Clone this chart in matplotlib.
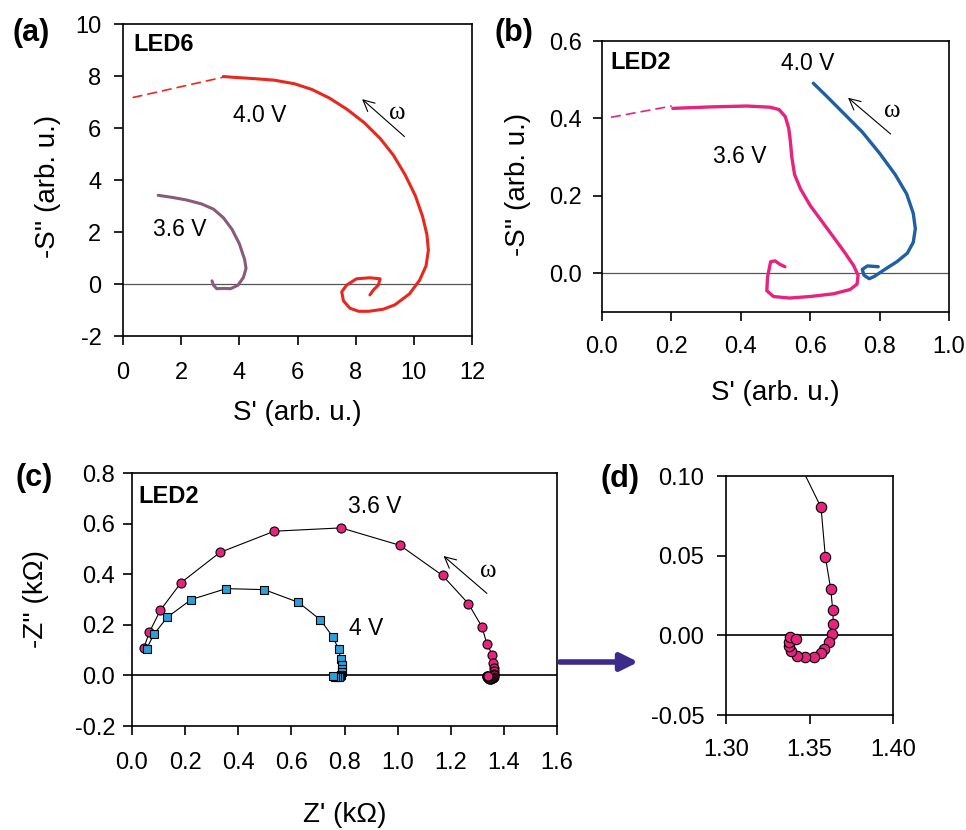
import numpy as np
import matplotlib
matplotlib.use("Agg")
import matplotlib.pyplot as plt
from matplotlib.patches import FancyArrowPatch
from matplotlib.ticker import FormatStrFormatter

plt.rcParams['font.family'] = ['Liberation Sans', 'DejaVu Sans']
plt.rcParams['axes.unicode_minus'] = False

# ---- (a) LED6, S-plane ----
a40_dash_x = [0.33, 3.43]
a40_dash_y = [7.17, 7.95]
a40_x = [3.45, 3.79, 4.5, 5.2, 5.9, 6.5, 7.1, 7.7, 8.3, 8.84, 9.3, 9.7, 10.05, 10.3,
         10.45, 10.5, 10.42, 10.2, 9.85, 9.35, 8.95, 8.45, 8.1, 7.8, 7.58, 7.52, 7.69,
         8.03, 8.49, 8.84, 8.78, 8.61, 8.49]
a40_y = [7.98, 7.95, 7.90, 7.84, 7.70, 7.48, 7.15, 6.72, 6.20, 5.60, 4.95, 4.20, 3.40,
         2.60, 1.90, 1.30, 0.70, 0.15, -0.38, -0.80, -0.97, -1.05, -1.05, -0.93, -0.65,
         -0.30, -0.04, 0.20, 0.24, 0.20, -0.04, -0.23, -0.42]
a36_x = [1.21, 1.7, 2.19, 2.7, 3.11, 3.45, 3.75, 4.0, 4.18, 4.23, 4.14, 3.95, 3.7,
         3.45, 3.22, 3.11, 3.06]
a36_y = [3.41, 3.33, 3.23, 3.08, 2.88, 2.55, 2.10, 1.55, 0.95, 0.60, 0.25, -0.05, -0.18,
         -0.17, -0.18, -0.04, 0.12]

# ---- (b) LED2, S-plane ----
b36_dash_x = [0.026, 0.201]
b36_dash_y = [0.403, 0.432]
b36_x = [0.204, 0.321, 0.417, 0.484, 0.510, 0.528, 0.538, 0.543, 0.547, 0.555, 0.572,
         0.600, 0.638, 0.670, 0.700, 0.725, 0.738, 0.735, 0.715, 0.667, 0.600, 0.540,
         0.494, 0.475, 0.477, 0.486, 0.499, 0.513, 0.527]
b36_y = [0.426, 0.430, 0.432, 0.429, 0.423, 0.405, 0.375, 0.340, 0.300, 0.255, 0.218,
         0.175, 0.129, 0.090, 0.053, 0.020, -0.005, -0.028, -0.042, -0.053, -0.060, -0.064,
         -0.060, -0.045, -0.010, 0.030, 0.032, 0.023, 0.017]
b40_x = [0.609, 0.650, 0.700, 0.750, 0.800, 0.845, 0.878, 0.897, 0.903, 0.897, 0.880,
         0.850, 0.815, 0.785, 0.770, 0.755, 0.750, 0.765, 0.796]
b40_y = [0.491, 0.455, 0.410, 0.365, 0.310, 0.255, 0.205, 0.155, 0.115, 0.080, 0.052,
         0.030, 0.010, -0.008, -0.014, -0.005, 0.010, 0.019, 0.017]

# ---- (c)/(d) LED2, impedance (kOhm) ----
z36_re = [0.045, 0.0655, 0.107, 0.185, 0.331, 0.536, 0.787, 1.009, 1.169, 1.266, 1.317,
          1.336, 1.3569, 1.3595, 1.3627, 1.3639, 1.3643, 1.3637, 1.3619, 1.3587, 1.3567,
          1.3527, 1.3475, 1.3427, 1.3389, 1.3375, 1.3375, 1.3383, 1.3419]
z36_im = [0.110, 0.171, 0.258, 0.367, 0.486, 0.570, 0.583, 0.514, 0.395, 0.284, 0.193,
          0.125, 0.0803, 0.0492, 0.0291, 0.0161, 0.0073, 0.0006, -0.0044, -0.0086, -0.0113,
          -0.0134, -0.0134, -0.0128, -0.0098, -0.0067, -0.0040, -0.0013, -0.0023]
z40_re = [0.055, 0.082, 0.133, 0.223, 0.355, 0.498, 0.626, 0.709, 0.757, 0.778, 0.785,
          0.790, 0.790, 0.790, 0.788, 0.784, 0.778, 0.770, 0.763, 0.758]
z40_im = [0.105, 0.162, 0.230, 0.300, 0.343, 0.339, 0.289, 0.220, 0.151, 0.103, 0.066,
          0.041, 0.024, 0.012, 0.003, -0.004, -0.007, -0.007, -0.005, -0.002]

W, H = 966, 830
fig = plt.figure(figsize=(W / 100, H / 100), dpi=100)


def rect(l, t, r, b):
    return [l / W, 1 - b / H, (r - l) / W, (b - t) / H]


def style(ax, xpad, ypad):
    for s in ax.spines.values():
        s.set_linewidth(1.2)
    ax.tick_params(direction='out', length=6.5, width=1.2, labelsize=17, top=False, right=False)
    ax.tick_params(axis='x', pad=xpad)
    ax.tick_params(axis='y', pad=ypad)


def labels(ax, xl, yl, xpos, ypos):
    ax.set_xlabel(xl, fontsize=20)
    ax.set_ylabel(yl, fontsize=20)
    ax.xaxis.set_label_coords(*xpos)
    ax.yaxis.set_label_coords(*ypos)
    ax.xaxis.label.set_va('center')
    ax.yaxis.label.set_va('center')


omega_font = dict(family=['Liberation Serif', 'DejaVu Serif'], fontsize=18)
arrow_kw = dict(arrowstyle='->', lw=0.8, color='black', mutation_scale=20)
ann = dict(fontsize=16.5, ha='center', va='center')
led = dict(fontsize=17, fontweight='bold', va='center')
panel = dict(fontsize=22, fontweight='bold', ha='center', va='center')

# (a)
ax = fig.add_axes(rect(123, 24, 472, 336))
ax.axhline(0, color='#555555', lw=0.9)
ax.plot(a40_dash_x, a40_dash_y, color='#e8281e', lw=1.2, dashes=(6, 3))
ax.plot(a40_x, a40_y, color='#e8281e', lw=2.2, solid_capstyle='round', solid_joinstyle='round')
ax.plot(a36_x, a36_y, color='#8a5a7a', lw=2.2, solid_capstyle='round', solid_joinstyle='round')
ax.set_xlim(0, 12)
ax.set_ylim(-2, 10)
ax.set_xticks(np.arange(0, 13, 2))
ax.set_yticks(np.arange(-2, 11, 2))
style(ax, 12, 9)
labels(ax, "S' (arb. u.)", "-S'' (arb. u.)", (0.5, -0.247), (-0.215, 0.48))
ax.text(0.34, 9.23, 'LED6', **led)
ax.text(4.71, 6.5, '4.0 V', **ann)
ax.text(1.96, 2.1, '3.6 V', **ann)
ax.text(9.43, 6.59, 'ω', ha='center', va='center', **omega_font)
ax.annotate('', xy=(8.15, 7.18), xytext=(9.75, 5.6), arrowprops=arrow_kw)
fig.text(31 / W, 1 - 33 / H, '(a)', **panel)

# (b)
ax = fig.add_axes(rect(602, 41, 949, 312))
ax.axhline(0, color='#555555', lw=0.9)
ax.plot(b36_dash_x, b36_dash_y, color='#e6237e', lw=1.2, dashes=(6, 3))
ax.plot(b36_x, b36_y, color='#e6237e', lw=2.4, solid_capstyle='round', solid_joinstyle='round')
ax.plot(b40_x, b40_y, color='#1f5fa3', lw=2.4, solid_capstyle='round', solid_joinstyle='round')
ax.set_xlim(0, 1.0)
ax.set_ylim(-0.1, 0.6)
ax.set_xticks(np.arange(0, 1.01, 0.2))
ax.set_yticks(np.arange(0, 0.61, 0.2))
ax.xaxis.set_major_formatter(FormatStrFormatter('%.1f'))
ax.yaxis.set_major_formatter(FormatStrFormatter('%.1f'))
style(ax, 11, 8)
labels(ax, "S' (arb. u.)", "-S'' (arb. u.)", (0.5, -0.299), (-0.242, 0.469))
ax.text(0.025, 0.544, 'LED2', **led)
ax.text(0.594, 0.542, '4.0 V', **ann)
ax.text(0.398, 0.301, '3.6 V', **ann)
ax.text(0.837, 0.419, 'ω', ha='center', va='center', **omega_font)
ax.annotate('', xy=(0.703, 0.458), xytext=(0.838, 0.355), arrowprops=arrow_kw)
fig.text(514 / W, 1 - 33 / H, '(b)', **panel)

# (c)
ax = fig.add_axes(rect(132, 473, 557, 726))
ax.axhline(0, color='black', lw=1.2)
ax.plot(z36_re, z36_im, color='black', lw=0.8, marker='o', ms=6.5,
        mfc='#e6237e', mec='black', mew=0.8)
ax.plot(z40_re, z40_im, color='black', lw=0.8, marker='s', ms=6,
        mfc='#2a9fd8', mec='black', mew=0.8)
ax.set_xlim(0, 1.6)
ax.set_ylim(-0.2, 0.8)
ax.set_xticks(np.arange(0, 1.61, 0.2))
ax.set_yticks(np.arange(-0.2, 0.81, 0.2))
ax.xaxis.set_major_formatter(FormatStrFormatter('%.1f'))
ax.yaxis.set_major_formatter(FormatStrFormatter('%.1f'))
style(ax, 12, 5.5)
labels(ax, "Z' (kΩ)", "-Z'' (kΩ)", (0.5, -0.352), (-0.226, 0.502))
ax.text(0.025, 0.708, 'LED2', **led)
ax.text(0.915, 0.668, '3.6 V', **ann)
ax.text(0.882, 0.186, '4 V', **ann)
ax.text(1.341, 0.413, 'ω', ha='center', va='center', **omega_font)
ax.annotate('', xy=(1.165, 0.479), xytext=(1.344, 0.317), arrowprops=arrow_kw)
fig.text(34 / W, 1 - 478 / H, '(c)', **panel)

# (d) zoom of the 3.6 V tail
ax = fig.add_axes(rect(726, 476, 893, 715))
ax.axhline(0, color='black', lw=1.2)
ax.plot(z36_re, z36_im, color='black', lw=0.8, marker='o', ms=7.5,
        mfc='#e6237e', mec='black', mew=0.8)
ax.set_xlim(1.30, 1.40)
ax.set_ylim(-0.05, 0.10)
ax.set_xticks([1.30, 1.35, 1.40])
ax.set_yticks([-0.05, 0.0, 0.05, 0.10])
ax.xaxis.set_major_formatter(FormatStrFormatter('%.2f'))
ax.yaxis.set_major_formatter(FormatStrFormatter('%.2f'))
style(ax, 11, 9)
fig.text(620 / W, 1 - 479 / H, '(d)', **panel)

# connecting arrow (c) -> (d)
fig.add_artist(FancyArrowPatch((557 / W, 1 - 662 / H), (641 / W, 1 - 662 / H),
                               transform=fig.transFigure, arrowstyle='-|>',
                               mutation_scale=26, lw=4, color='#3d2b8c'))

fig.savefig('out.png', dpi=100)
